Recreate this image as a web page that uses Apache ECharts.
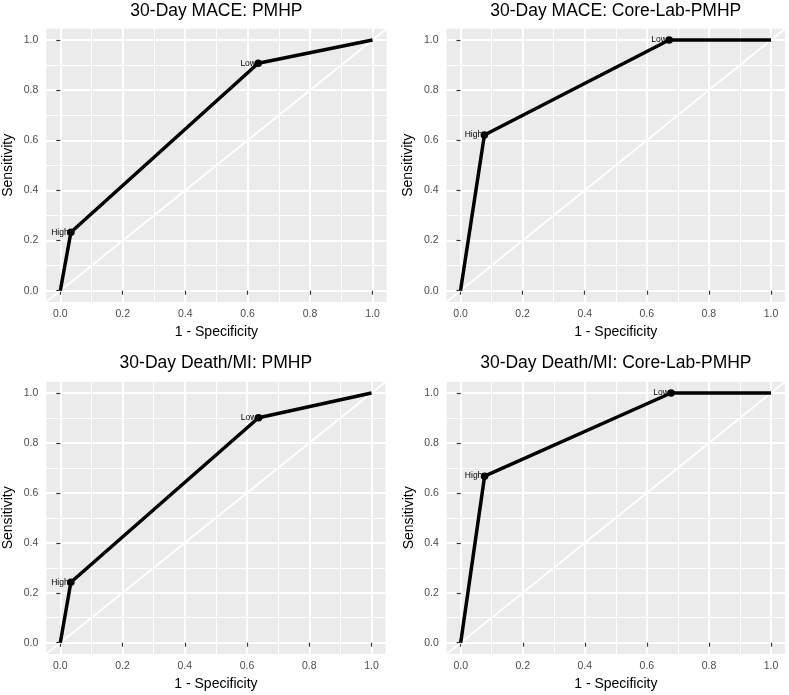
<!DOCTYPE html>
<html><head><meta charset="utf-8">
<script src="https://cdn.jsdelivr.net/npm/echarts@6/dist/echarts.min.js"></script>
<style>html,body{margin:0;padding:0;background:#fff}#c{width:789px;height:695px}</style>
</head><body><div id="c"></div>
<script>
// ---- data ----
const panelTitles = ["30-Day MACE: PMHP", "30-Day MACE: Core-Lab-PMHP", "30-Day Death/MI: PMHP", "30-Day Death/MI: Core-Lab-PMHP"];
const fprMacePmhp = [0, 0.034, 0.634, 1];
const sensMacePmhp = [0, 0.233, 0.907, 1];
const fprMaceCore = [0, 0.077, 0.672, 1];
const sensMaceCore = [0, 0.621, 1, 1];
const fprDeathPmhp = [0, 0.034, 0.637, 1];
const sensDeathPmhp = [0, 0.242, 0.901, 1];
const fprDeathCore = [0, 0.077, 0.678, 1];
const sensDeathCore = [0, 0.667, 1, 1];
const pointLabels = ["", "High", "Low", ""];
const tickValues = [0, 0.2, 0.4, 0.6, 0.8, 1.0];
const minorValues = [0.1, 0.3, 0.5, 0.7, 0.9];
const xTitle = "1 - Specificity";
const yTitle = "Sensitivity";

const fprs = [fprMacePmhp, fprMaceCore, fprDeathPmhp, fprDeathCore];
const senss = [sensMacePmhp, sensMaceCore, sensDeathPmhp, sensDeathCore];

// ---- layout ----
const FONT = "'Liberation Sans', Arial, sans-serif";
const E = 0.045;
const panels = [
  {x0: 60.3, x1: 372.5, y1: 40, y0: 290.7, ty: 11.5},
  {x0: 460.5, x1: 771, y1: 40, y0: 290.7, ty: 11.5},
  {x0: 60.3, x1: 371.5, y1: 393, y0: 642.7, ty: 363.5},
  {x0: 460.7, x1: 771, y1: 393, y0: 642.7, ty: 363.5}
];

const grids = [], xAxes = [], yAxes = [], series = [], graphics = [];
panels.forEach((p, i) => {
  const w = p.x1 - p.x0, h = p.y0 - p.y1;
  const left = p.x0 - E * w, top = p.y1 - E * h;
  const W = w * (1 + 2 * E), H = h * (1 + 2 * E);
  grids.push({left: left, top: top, width: W, height: H, show: true,
    backgroundColor: '#EBEBEB', borderWidth: 0, containLabel: false});
  const common = {
    gridIndex: i, type: 'value', min: -E, max: 1 + E,
    axisLine: {show: false},
    axisTick: {show: true, customValues: tickValues, length: 4, lineStyle: {color: '#333', width: 1.2}},
    axisLabel: {customValues: tickValues, formatter: v => v.toFixed(1), color: '#4D4D4D',
      fontSize: 10.5, fontFamily: FONT},
    splitLine: {show: true, lineStyle: {color: '#fff', width: 2}},
    nameLocation: 'middle',
    nameTextStyle: {fontSize: 14, color: '#000', fontFamily: FONT}
  };
  xAxes.push(Object.assign({}, common, {name: xTitle, nameGap: 23,
    axisLabel: Object.assign({}, common.axisLabel, {margin: 7})}));
  yAxes.push(Object.assign({}, common, {name: yTitle, nameGap: 31,
    axisLabel: Object.assign({}, common.axisLabel, {margin: 8})}));

  const gridLines = [];
  minorValues.forEach(v => {
    gridLines.push({xAxis: v});
    gridLines.push({yAxis: v});
  });
  // diagonal reference line (full panel) + minor grid lines
  series.push({
    type: 'line', xAxisIndex: i, yAxisIndex: i, silent: true, z: 1,
    data: [[-E, -E], [1 + E, 1 + E]], symbol: 'none',
    lineStyle: {color: '#fff', width: 1.8},
    markLine: {silent: true, symbol: 'none', z: 1, label: {show: false},
      lineStyle: {color: '#fff', type: 'solid', width: 1, opacity: 1}, data: gridLines, animation: false},
    animation: false
  });
  // ROC curve
  const d = fprs[i].map((x, k) => {
    const item = {value: [x, senss[i][k]]};
    if (!pointLabels[k]) { item.symbol = 'none'; item.label = {show: false}; }
    return item;
  });
  series.push({
    type: 'line', xAxisIndex: i, yAxisIndex: i, z: 10, data: d,
    symbol: 'circle', symbolSize: 7.5, showSymbol: true,
    itemStyle: {color: '#000'},
    lineStyle: {color: '#000', width: 3.5},
    label: {show: true, position: 'left', distance: -1.5, fontSize: 8.5, color: '#000', fontFamily: FONT,
      formatter: prm => pointLabels[prm.dataIndex]},
    animation: false
  });
  graphics.push({type: 'text', x: (left + left + W) / 2, y: p.ty,
    style: {text: panelTitles[i], fill: '#000', font: '17.5px ' + FONT, align: 'center', verticalAlign: 'middle'}});
});

const chart = echarts.init(document.getElementById('c'));
chart.setOption({
  animation: false,
  grid: grids, xAxis: xAxes, yAxis: yAxes, series: series, graphic: graphics
});
</script></body></html>
